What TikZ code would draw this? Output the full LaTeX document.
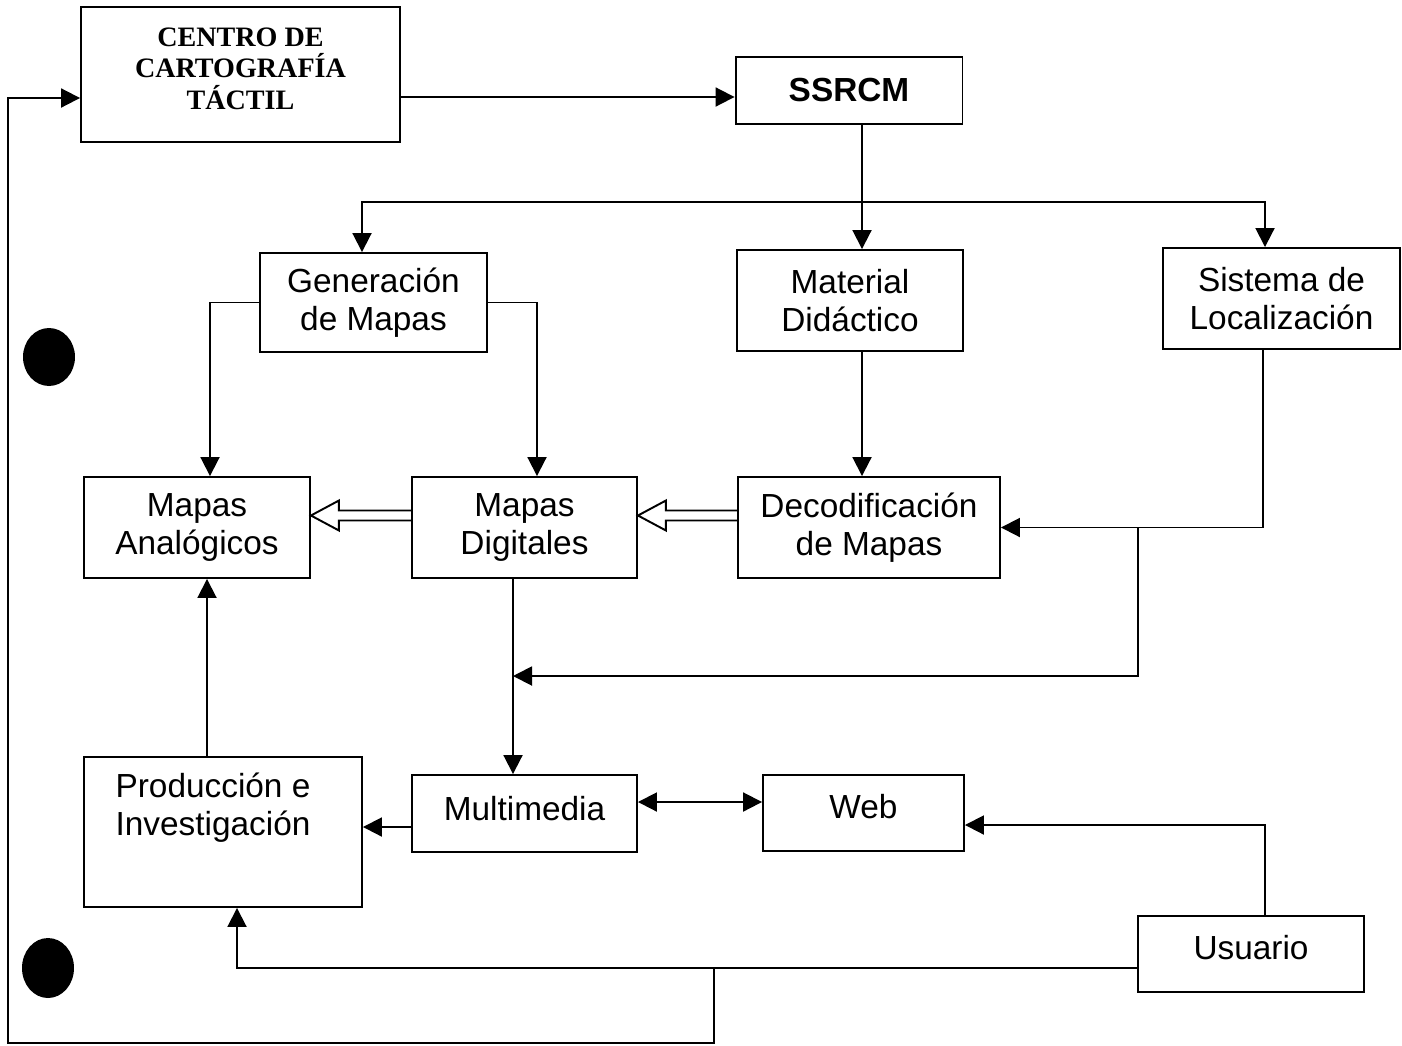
\documentclass[tikz,border=0pt]{standalone}
\usepackage{fontspec}
\setmainfont{Liberation Sans}
\newfontfamily\timesfont{Liberation Serif}
\usetikzlibrary{arrows.meta,calc}

\begin{document}
\begin{tikzpicture}[
  x=0.02cm,
  y=-0.02cm,
  line width=1.1pt,
  font=\fontsize{19}{21.5}\selectfont,
  box/.style={draw, align=center, inner sep=2pt},
  arr/.style={-{Triangle[length=0.38cm,width=0.38cm]}},
  arrboth/.style={{Triangle[length=0.38cm,width=0.38cm]}-{Triangle[length=0.38cm,width=0.38cm]}}
]
\useasboundingbox (0,0) rectangle (1402,1045);

% boxes
\node[box, minimum width=6.38cm, minimum height=2.7cm,
  label={[align=center, yshift=0.12cm, font=\timesfont\bfseries\fontsize{16}{17.9}\selectfont]center:{CENTRO DE\\CARTOGRAFÍA\\TÁCTIL}}] (centro) at (240.5,74.5) {};
\node[box, minimum width=4.54cm, minimum height=1.34cm, font=\bfseries\fontsize{19}{22}\selectfont] (ssrcm) at (849,90.5) {SSRCM};

\node[box, minimum width=4.54cm, minimum height=1.98cm] (gen) at (373.5,302.5) {Generación\\de Mapas};
\node[box, minimum width=4.52cm, minimum height=2.02cm] (mat) at (850,300.5) {Material\\Didáctico};
\node[box, minimum width=4.74cm, minimum height=2.02cm] (sis) at (1281.5,298.5) {Sistema de\\Localización};

\node[box, minimum width=4.52cm, minimum height=2.02cm] (ana) at (197,527.5) {Mapas\\Analógicos};
\node[box, minimum width=4.5cm, minimum height=2.02cm] (dig) at (524.5,527.5) {Mapas\\Digitales};
\node[box, minimum width=5.24cm, minimum height=2.02cm] (dec) at (869,527.5) {Decodificación\\de Mapas};

\node[box, minimum width=5.56cm, minimum height=3.0cm,
  label={[align=center, yshift=0.48cm, xshift=-0.2cm]center:{Producción e\\Investigación}}] (prod) at (223,832) {};
\node[box, minimum width=4.5cm, minimum height=1.54cm,
  label={[yshift=0.1cm]center:Multimedia}] (mul) at (524.5,813.5) {};
\node[box, minimum width=4.02cm, minimum height=1.52cm,
  label={[yshift=0.12cm]center:Web}] (web) at (863.5,813) {};
\node[box, minimum width=4.52cm, minimum height=1.52cm,
  label={[yshift=0.12cm]center:Usuario}] (usu) at (1251,954) {};

% dots
\fill (49,357) ellipse [x radius=0.52cm, y radius=0.58cm];
\fill (48,968) ellipse [x radius=0.52cm, y radius=0.6cm];

% top part
\draw[arr] (centro.east |- 0,97) -- (ssrcm.west |- 0,97);
\draw[arr] (ssrcm.south -| 862,0) -- (mat.north -| 862,0);
\coordinate (split) at (862,202);
\draw[arr] (split) -| (gen.north -| 362,0);
\draw[arr] (split) -| (sis.north -| 1265,0);
\draw[arr] (gen.west) -| (ana.north -| 210,0);
\draw[arr] (gen.east) -| (dig.north -| 537,0);
\draw[arr] (mat.south -| 862,0) -- (dec.north -| 862,0);

% Sistema de Localizacion
\coordinate (j1) at (1138,527.5);
\coordinate (j2) at (513,676);
\draw[arr] (sis.south -| 1263,0) |- (dec.east);
\draw[arr] (j1) |- (j2);

% hollow arrows
\draw ($(dig.west)+(0,-17)$) -- ($(ana.east)+(28,-17)$) -- ($(ana.east)+(28,-27)$)
  -- ($(ana.east)+(0,-12)$) -- ($(ana.east)+(28,3)$) -- ($(ana.east)+(28,-7)$) -- ($(dig.west)+(0,-7)$);
\draw ($(dec.west)+(0,-17)$) -- ($(dig.east)+(28,-17)$) -- ($(dig.east)+(28,-27)$)
  -- ($(dig.east)+(0,-12)$) -- ($(dig.east)+(28,3)$) -- ($(dig.east)+(28,-7)$) -- ($(dec.west)+(0,-7)$);

% lower part
\draw[arr] (dig.south -| j2) -- (mul.north -| j2);
\draw[arrboth] (mul.east |- 0,802) -- (web.west |- 0,802);
\draw[arr] (mul.west |- 0,827) -- (prod.east |- 0,827);
\draw[arr] (prod.north -| 207,0) -- (ana.south -| 207,0);
\draw[arr] (usu.north -| 1265,0) |- (web.east |- 0,825);
\draw[arr] (usu.west |- 0,968) -| (prod.south -| 237,0);

% back to the centro
\coordinate (j3) at (714,968);
\coordinate (low) at (714,1043);
\coordinate (edge) at (8,1043);
\draw[arr] (j3) -- (low) -- (edge) |- (centro.west |- 0,98);
\end{tikzpicture}
\end{document}
